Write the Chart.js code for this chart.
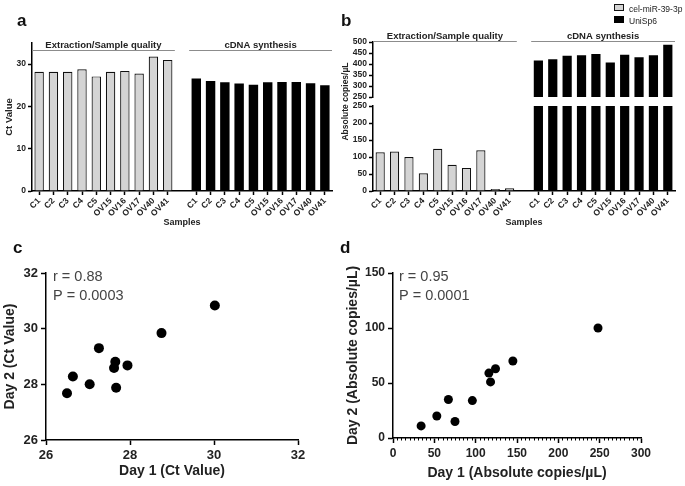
<!DOCTYPE html>
<html>
<head>
<meta charset="utf-8">
<script src="https://cdn.jsdelivr.net/npm/chart.js@4"></script>
<style>
  html, body { margin: 0; padding: 0; background: #fff; }
  #fig { position: relative; width: 685px; height: 486px; font-family: "Liberation Sans", Arial, sans-serif; color: #111; }
  #fig canvas { position: absolute; }
  .tag { position: absolute; font-weight: bold; font-size: 17px; line-height: 1; }
  .legend { position: absolute; left: 614px; font-size: 8.5px; line-height: 9px; color: #222; white-space: nowrap; }
  .legend .box { display: inline-block; width: 8px; height: 5px; margin-right: 5px; vertical-align: 1px; }
</style>
</head>
<body>
<div id="fig">
  <canvas id="chartA" width="340" height="232" style="left:0;top:0"></canvas>
  <canvas id="chartB" width="345" height="232" style="left:340px;top:0"></canvas>
  <canvas id="chartC" width="340" height="251" style="left:0;top:235px"></canvas>
  <canvas id="chartD" width="345" height="251" style="left:340px;top:235px"></canvas>
  <div class="tag" style="left:17px;top:12px">a</div>
  <div class="tag" style="left:341px;top:12px">b</div>
  <div class="tag" style="left:13px;top:239px">c</div>
  <div class="tag" style="left:340px;top:239px">d</div>
</div>
<script>
const FONT = "'Liberation Sans', Arial, sans-serif";
Chart.defaults.font.family = FONT;
Chart.defaults.color = '#222';
Chart.defaults.animation = false;
Chart.defaults.responsive = false;
Chart.defaults.plugins.legend.display = false;
Chart.defaults.plugins.tooltip.enabled = false;

// ── DATA ──
const samples = ['C1', 'C2', 'C3', 'C4', 'C5', 'OV15', 'OV16', 'OV17', 'OV40', 'OV41'];
const groupNames = ['Extraction/Sample quality', 'cDNA synthesis'];
const seriesNames = ['cel-miR-39-3p', 'UniSp6'];

const ctCelMiR = [28.2, 28.2, 28.2, 28.8, 27.1, 28.2, 28.4, 27.8, 31.8, 31.0];
const ctUniSp6 = [26.6, 26.0, 25.7, 25.4, 25.1, 25.7, 25.8, 25.8, 25.5, 25.0];

const copiesCelMiR = [114, 116, 100, 52, 124, 77, 68, 120, 6, 8];
const copiesUniSp6 = [416, 422, 437, 440, 446, 407, 442, 431, 440, 488];

const day1Ct = [26.5, 26.64, 27.04, 27.26, 27.62, 27.65, 27.67, 27.94, 28.75, 30.02];
const day2Ct = [27.68, 28.28, 28.0, 29.3, 28.59, 28.81, 27.88, 28.68, 29.84, 30.83];
const statsCt = ['r = 0.88', 'P = 0.0003'];

const day1Copies = [34, 53, 67, 75, 96, 116, 118, 124, 145, 248];
const day2Copies = [11, 20, 35, 15, 34, 59, 51, 63, 70, 100];
const statsCopies = ['r = 0.95', 'P = 0.0001'];

// ── HELPERS ──
const GREY = '#d4d4d4';
const barLabels = samples.concat([''], samples);
const gapFill = Array(samples.length + 1).fill(null);
const firstGroup = vals => vals.concat(gapFill);
const secondGroup = vals => gapFill.concat(vals);

function barX() {
  return {
    ticks: { font: { size: 8.5, weight: 'bold' }, color: '#222', minRotation: 45, maxRotation: 45, autoSkip: false, padding: 1 },
    grid: {
      offset: false, drawOnChartArea: false, tickLength: 4, tickWidth: 1.5,
      tickColor: c => (c.tick && c.tick.label === '') ? 'rgba(0,0,0,0)' : '#000'
    },
    border: { color: '#000', width: 1.5 },
    title: { display: true, text: 'Samples', font: { size: 9, weight: 'bold' }, color: '#222', padding: { top: 0, bottom: 4 } },
    afterFit: s => { s.height = 41; }
  };
}

function barY(min, max, step, extra) {
  return Object.assign({
    position: 'left', min, max,
    ticks: { stepSize: step, includeBounds: false, autoSkip: false, font: { size: 8.5, weight: 'bold' }, color: '#222', padding: 2 },
    grid: { drawOnChartArea: false, tickLength: 4, tickWidth: 1.5, tickColor: '#000' },
    border: { color: '#000', width: 1.5 },
    afterFit: s => { s.width = 33; }
  }, extra);
}

function linAxis(min, max, step, title, titlePad, size, tickSize) {
  return {
    min, max,
    ticks: { stepSize: step, font: { size: tickSize, weight: 'bold' }, color: '#222', padding: 3 },
    grid: { drawOnChartArea: false, tickLength: 5, tickWidth: 1.5, tickColor: '#000' },
    border: { color: '#000', width: 1.5 },
    title: { display: true, text: title, font: { size: 14, weight: 'bold' }, color: '#222', padding: { top: titlePad, bottom: titlePad } },
    afterFit: s => { if (s.isHorizontal()) s.height = size; else s.width = size; }
  };
}

// ── PLUGINS ──
const groupHeaders = {
  id: 'groupHeaders',
  afterDraw(chart, args, opts) {
    const x = chart.scales.x, ctx = chart.ctx;
    const half = (x.getPixelForValue(1) - x.getPixelForValue(0)) / 2;
    const n = samples.length;
    const spans = [[0, n - 1], [n + 1, 2 * n]];
    ctx.save();
    ctx.font = 'bold 9.5px ' + FONT;
    ctx.textAlign = 'center';
    groupNames.forEach((name, i) => {
      const l = x.getPixelForValue(spans[i][0]) - half;
      const r = x.getPixelForValue(spans[i][1]) + half;
      ctx.strokeStyle = '#8c8c8c';
      ctx.lineWidth = 1;
      ctx.beginPath();
      ctx.moveTo(l, opts.y + 0.5);
      ctx.lineTo(r, opts.y + 0.5);
      ctx.stroke();
      ctx.fillStyle = '#222';
      ctx.fillText(name, (l + r) / 2, opts.y - 2.5);
    });
    ctx.restore();
  }
};

const statsText = {
  id: 'statsText',
  afterDraw(chart, args, opts) {
    const { ctx, chartArea } = chart;
    ctx.save();
    ctx.font = '14.5px ' + FONT;
    ctx.fillStyle = '#444';
    ctx.textBaseline = 'middle';
    opts.lines.forEach((t, i) => ctx.fillText(t, chartArea.left + opts.dx, chartArea.top + 4 + i * 19));
    ctx.restore();
  }
};

const minorTicks = {
  id: 'minorTicks',
  afterDraw(chart, args, opts) {
    const s = chart.scales.x, ctx = chart.ctx;
    ctx.save();
    ctx.strokeStyle = '#000';
    ctx.lineWidth = 1;
    for (let v = s.min + opts.step; v < s.max; v += opts.step) {
      if (v % opts.major === 0) continue;
      const px = Math.round(s.getPixelForValue(v)) + 0.5;
      ctx.beginPath();
      ctx.moveTo(px, s.top);
      ctx.lineTo(px, s.top + 2.5);
      ctx.stroke();
    }
    ctx.restore();
  }
};

// ── PANEL A ──
new Chart(document.getElementById('chartA'), {
  type: 'bar',
  data: {
    labels: barLabels,
    datasets: [
      { label: seriesNames[0], data: firstGroup(ctCelMiR), backgroundColor: GREY, borderColor: '#111', borderWidth: 1.2 },
      { label: seriesNames[1], data: secondGroup(ctUniSp6), backgroundColor: '#000', borderWidth: 0 }
    ]
  },
  options: {
    layout: { padding: { top: 43, right: 8, left: 0, bottom: 0 } },
    datasets: { bar: { grouped: false, barPercentage: 0.66, categoryPercentage: 1 } },
    plugins: { groupHeaders: { y: 50 } },
    scales: {
      x: barX(),
      y: barY(0, 35, 10, {
        title: { display: true, text: 'Ct Value', font: { size: 9.5, weight: 'bold' }, color: '#222', padding: { top: 4, bottom: 0 } },
        afterFit: s => { s.width = 32; }
      })
    }
  },
  plugins: [groupHeaders]
});

// ── PANEL B (broken axis: two stacked y scales) ──
new Chart(document.getElementById('chartB'), {
  type: 'bar',
  data: {
    labels: barLabels,
    datasets: [
      { label: seriesNames[0], data: firstGroup(copiesCelMiR), yAxisID: 'yLow', backgroundColor: GREY, borderColor: '#111', borderWidth: 1.2, clip: 0 },
      { label: seriesNames[1], data: secondGroup(copiesUniSp6), yAxisID: 'yLow', backgroundColor: '#000', borderWidth: 0, clip: 0 },
      { label: seriesNames[1], data: secondGroup(copiesUniSp6), yAxisID: 'yHigh', backgroundColor: '#000', borderWidth: 0, clip: 0 }
    ]
  },
  options: {
    layout: { padding: { top: 42, right: 10, left: 0, bottom: 0 } },
    datasets: { bar: { grouped: false, barPercentage: 0.64, categoryPercentage: 1 } },
    plugins: { groupHeaders: { y: 41 } },
    scales: {
      x: barX(),
      yHigh: barY(250, 500, 50, { stack: 'copies', stackWeight: 55, weight: 3 }),
      yBreak: barY(0, 1, 1, {
        stack: 'copies', stackWeight: 9, weight: 2,
        ticks: { display: false },
        grid: { display: false },
        border: { display: false },
        title: { display: true, text: 'Absolute copies/\u00b5L', font: { size: 8.5, weight: 'bold' }, color: '#222', padding: { top: 1, bottom: 0 } }
      }),
      yLow: barY(0, 250, 50, { stack: 'copies', stackWeight: 85, weight: 1 })
    }
  },
  plugins: [groupHeaders]
});

// ── PANEL C ──
new Chart(document.getElementById('chartC'), {
  type: 'scatter',
  data: {
    datasets: [{ data: day1Ct.map((x, i) => ({ x, y: day2Ct[i] })), backgroundColor: '#000', borderWidth: 0, pointRadius: 5 }]
  },
  options: {
    layout: { padding: { top: 38, right: 42, left: 0, bottom: 0 } },
    plugins: { statsText: { lines: statsCt, dx: 7 } },
    scales: {
      x: linAxis(26, 32, 2, 'Day 1 (Ct Value)', 6, 46, 13),
      y: linAxis(26, 32, 2, 'Day 2 (Ct Value)', 2, 46, 13)
    }
  },
  plugins: [statsText]
});

// ── PANEL D ──
new Chart(document.getElementById('chartD'), {
  type: 'scatter',
  data: {
    datasets: [{ data: day1Copies.map((x, i) => ({ x, y: day2Copies[i] })), backgroundColor: '#000', borderWidth: 0, pointRadius: 4.5 }]
  },
  options: {
    layout: { padding: { top: 38, right: 44, left: 0, bottom: 0 } },
    plugins: { statsText: { lines: statsCopies, dx: 6 }, minorTicks: { step: 5, major: 50 } },
    scales: {
      x: linAxis(0, 300, 50, 'Day 1 (Absolute copies/\u00b5L)', 4, 48, 12),
      y: linAxis(0, 150, 50, 'Day 2 (Absolute copies/\u00b5L)', 5, 53, 12)
    }
  },
  plugins: [statsText, minorTicks]
});

// ── LEGEND ──
const legendSwatch = [
  'background:' + GREY + ';border:1px solid #111',
  'background:#000;border:1px solid #000'
];
seriesNames.forEach((name, i) => {
  const row = document.createElement('div');
  row.className = 'legend';
  row.style.top = (4 + i * 12) + 'px';
  row.innerHTML = '<span class="box" style="' + legendSwatch[i] + '"></span>' + name;
  document.getElementById('fig').appendChild(row);
});
</script>
</body>
</html>
